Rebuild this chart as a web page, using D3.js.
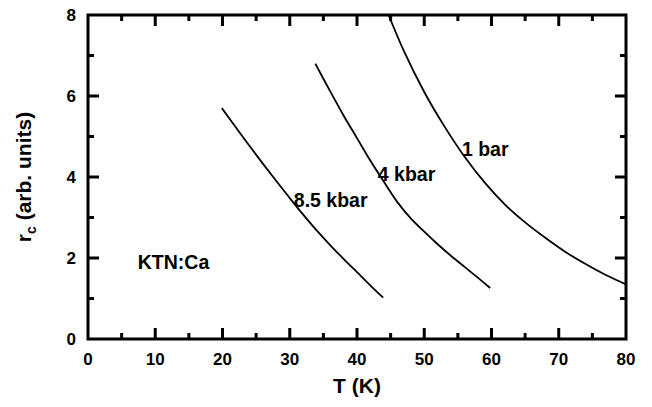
<!DOCTYPE html>
<html>
<head>
<meta charset="utf-8">
<script src="https://cdn.jsdelivr.net/npm/d3@7"></script>
<style>
body { margin: 0; background: #fff; }
text { font-family: "Liberation Sans", Arial, sans-serif; font-weight: bold; fill: #000; }
</style>
</head>
<body>
<div id="vis"></div>
<script>
// curves: [T (K), r_c]
var bar1 = [[44.7, 8.0], [47, 7.1], [50, 6.1], [53, 5.25], [56, 4.5], [59, 3.86], [62, 3.32], [65, 2.88], [68, 2.5], [71, 2.15], [74, 1.85], [77, 1.58], [80, 1.35]];
var kbar4 = [[33.8, 6.8], [36, 6.12], [38, 5.52], [40, 4.96], [42, 4.4], [44, 3.88], [46, 3.38], [48, 2.98], [50, 2.65], [52, 2.34], [54, 2.05], [56, 1.78], [58, 1.51], [59.8, 1.26]];
var kbar85 = [[19.9, 5.7], [22, 5.22], [24, 4.77], [26, 4.33], [28, 3.9], [30, 3.48], [32, 3.07], [34, 2.68], [36, 2.32], [38, 1.98], [40, 1.65], [42, 1.32], [43.9, 1.02]];
var curveLabels = [
    {text: "1 bar", x: 55.6, y: 4.52},
    {text: "4 kbar", x: 43.1, y: 3.9},
    {text: "8.5 kbar", x: 30.6, y: 3.27},
    {text: "KTN:Ca", x: 7.4, y: 1.72}
];
var xTicks = [0, 10, 20, 30, 40, 50, 60, 70, 80];
var xMinor = [5, 15, 25, 35, 45, 55, 65, 75];
var yTicks = [0, 2, 4, 6, 8];
var yMinor = [1, 3, 5, 7];

var W = 652, H = 407,
    mLeft = 88, mRight = 626, mTop = 15, mBottom = 339;

var svg = d3.select("#vis").append("svg").attr("width", W).attr("height", H);

var x = d3.scaleLinear().domain([0, 80]).range([mLeft, mRight]),
    y = d3.scaleLinear().domain([0, 8]).range([mBottom, mTop]);

// frame and inward ticks on all four sides, one path
var p = d3.path();
p.moveTo(mLeft, mTop); p.lineTo(mRight, mTop); p.lineTo(mRight, mBottom); p.lineTo(mLeft, mBottom); p.closePath();
function xt(vals, len) {
    vals.forEach(function(d) {
        p.moveTo(x(d), mBottom); p.lineTo(x(d), mBottom - len);
        p.moveTo(x(d), mTop); p.lineTo(x(d), mTop + len);
    });
}
function yt(vals, len) {
    vals.forEach(function(d) {
        p.moveTo(mLeft, y(d)); p.lineTo(mLeft + len, y(d));
        p.moveTo(mRight, y(d)); p.lineTo(mRight - len, y(d));
    });
}
xt(xTicks, 11); xt(xMinor, 6);
yt(yTicks, 11); yt(yMinor, 6);
svg.append("path").attr("d", p.toString())
    .attr("fill", "none").attr("stroke", "#000").attr("stroke-width", 3);

svg.selectAll(".xl").data(xTicks).enter().append("text")
    .attr("class", "xl")
    .attr("x", function(d) { return x(d); }).attr("y", 365)
    .attr("text-anchor", "middle").attr("font-size", 17)
    .text(function(d) { return d; });

svg.selectAll(".yl").data(yTicks).enter().append("text")
    .attr("class", "yl")
    .attr("x", 76).attr("y", function(d) { return y(d) + 6; })
    .attr("text-anchor", "end").attr("font-size", 17)
    .text(function(d) { return d; });

var line = d3.line().x(function(d) { return x(d[0]); }).y(function(d) { return y(d[1]); })
    .curve(d3.curveCatmullRom);

[bar1, kbar4, kbar85].forEach(function(s) {
    svg.append("path").datum(s).attr("d", line)
        .attr("fill", "none").attr("stroke", "#000").attr("stroke-width", 1.8);
});

svg.selectAll(".lab").data(curveLabels).enter().append("text")
    .attr("class", "lab")
    .attr("x", function(d) { return x(d.x); })
    .attr("y", function(d) { return y(d.y); })
    .attr("font-size", 19.5)
    .text(function(d) { return d.text; });

// axis titles
svg.append("text").attr("x", (mLeft + mRight) / 2).attr("y", 393)
    .attr("text-anchor", "middle").attr("font-size", 21).text("T (K)");

var ytitle = svg.append("text").attr("transform", "translate(31," + ((mTop + mBottom) / 2) + ") rotate(-90)")
    .attr("text-anchor", "middle").attr("font-size", 21);
ytitle.append("tspan").text("r");
ytitle.append("tspan").attr("font-size", 14).attr("dy", 5).text("c");
ytitle.append("tspan").attr("dy", -5).text(" (arb. units)");
</script>
</body>
</html>
